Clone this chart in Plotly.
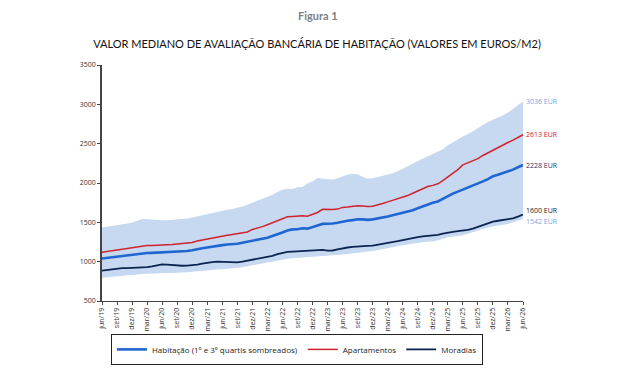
import plotly.graph_objects as go

pt_months = ["jan", "fev", "mar", "abr", "mai", "jun", "jul", "ago", "set", "out", "nov", "dez"]
# monthly categories jun/19 .. jun/26
months = []
for i in range(85):
    k = 5 + i
    months.append(f"{pt_months[k % 12]}/{19 + k // 12}")

habitacao = [1040, 1048, 1058, 1068, 1072, 1078, 1088, 1100, 1106, 1110, 1112, 1115,
             1118, 1120, 1124, 1130, 1133, 1135, 1145, 1160, 1170, 1180, 1192, 1200,
             1210, 1218, 1222, 1228, 1240, 1255, 1270, 1285, 1292, 1305, 1325, 1345,
             1370, 1395, 1410, 1412, 1425, 1420, 1445, 1460, 1480, 1478, 1485, 1495,
             1510, 1520, 1528, 1540, 1538, 1532, 1538, 1548, 1560, 1575, 1590, 1605,
             1617, 1635, 1655, 1680, 1705, 1730, 1750, 1765, 1800, 1840, 1865, 1890,
             1915, 1935, 1960, 1990, 2020, 2050, 2085, 2105, 2125, 2145, 2170, 2200,
             2228]

apartamentos = [1121, 1130, 1140, 1152, 1158, 1165, 1178, 1192, 1200, 1205, 1207, 1208,
                1210, 1213, 1218, 1225, 1230, 1232, 1245, 1262, 1275, 1290, 1300, 1310,
                1322, 1335, 1345, 1355, 1365, 1378, 1410, 1425, 1445, 1470, 1495, 1520,
                1555, 1570, 1575, 1580, 1585, 1578, 1605, 1625, 1665, 1660, 1662, 1668,
                1690, 1695, 1705, 1712, 1708, 1700, 1705, 1720, 1740, 1760, 1780, 1795,
                1815, 1840, 1870, 1900, 1930, 1955, 1970, 1990, 2030, 2075, 2120, 2170,
                2230, 2255, 2280, 2310, 2350, 2385, 2420, 2450, 2485, 2515, 2545, 2580,
                2613]

moradias = [887, 895, 905, 915, 918, 918, 920, 925, 928, 930, 940, 955,
            965, 962, 955, 952, 948, 950, 955, 962, 975, 988, 995, 1000,
            998, 992, 985, 990, 1000, 1012, 1025, 1035, 1045, 1058, 1075, 1095,
            1115, 1125, 1128, 1132, 1140, 1145, 1150, 1152, 1150, 1140, 1142, 1155,
            1170, 1180, 1188, 1195, 1200, 1202, 1205, 1215, 1228, 1240, 1250, 1262,
            1275, 1290, 1302, 1312, 1322, 1325, 1330, 1340, 1355, 1370, 1380, 1388,
            1395, 1405, 1420, 1440, 1465, 1490, 1510, 1520, 1528, 1535, 1550, 1572,
            1600]

q3 = [1435, 1445, 1455, 1470, 1478, 1485, 1495, 1520, 1542, 1540, 1532, 1528,
      1525, 1528, 1532, 1535, 1540, 1548, 1560, 1575, 1590, 1605, 1620, 1635,
      1650, 1660, 1668, 1680, 1700, 1725, 1750, 1770, 1795, 1820, 1850, 1885,
      1915, 1928, 1925, 1945, 1950, 1995, 2020, 2065, 2055, 2045, 2040, 2060,
      2085, 2105, 2118, 2112, 2080, 2055, 2060, 2075, 2090, 2108, 2125, 2150,
      2180, 2205, 2245, 2280, 2310, 2335, 2365, 2395, 2430, 2480, 2520, 2555,
      2590, 2620, 2660, 2700, 2740, 2775, 2805, 2830, 2860, 2895, 2940, 2990,
      3036]

q1 = [796, 803, 810, 818, 823, 828, 833, 837, 842, 846, 849, 852,
      854, 855, 855, 856, 860, 865, 871, 878, 886, 894, 898, 902,
      905, 910, 915, 921, 930, 942, 954, 966, 978, 992, 1005, 1020,
      1033, 1038, 1042, 1046, 1050, 1055, 1062, 1067, 1071, 1075, 1079, 1084,
      1090, 1097, 1103, 1108, 1118, 1128, 1137, 1147, 1157, 1167, 1180, 1195,
      1208, 1220, 1232, 1242, 1248, 1252, 1256, 1272, 1293, 1310, 1318, 1326,
      1335, 1355, 1378, 1396, 1415, 1435, 1450, 1460, 1470, 1480, 1500, 1522,
      1542]

tick_labels = months[::3]

C_BAND = "#c6d9f1"
C_HAB = "#1f66d1"
C_APT = "#d0232c"
C_MOR = "#0c2451"
C_LBL_BAND = "#7aa6e2"
C_LBL_HAB = "#1f3864"

fig = go.Figure()
fig.add_trace(go.Scatter(x=months, y=q1, mode="lines", line=dict(width=0, color=C_BAND),
                         showlegend=False, hoverinfo="skip"))
fig.add_trace(go.Scatter(x=months, y=q3, mode="lines", line=dict(width=0, color=C_BAND),
                         fill="tonexty", fillcolor=C_BAND, showlegend=False, hoverinfo="skip"))
fig.add_trace(go.Scatter(x=months, y=habitacao, mode="lines", name="Habitação (1º e 3º quartis sombreados)",
                         line=dict(color=C_HAB, width=2.6)))
fig.add_trace(go.Scatter(x=months, y=apartamentos, mode="lines", name="Apartamentos",
                         line=dict(color=C_APT, width=1.5)))
fig.add_trace(go.Scatter(x=months, y=moradias, mode="lines", name="Moradias",
                         line=dict(color=C_MOR, width=1.8)))

end_labels = [
    (q3[-1], C_LBL_BAND, 0),
    (apartamentos[-1], C_APT, 0),
    (habitacao[-1], C_LBL_HAB, 0),
    (moradias[-1], "#222222", 4),
    (q1[-1], C_LBL_BAND, -2),
]
for val, col, ys in end_labels:
    fig.add_annotation(x=months[-1], y=val, xref="x", yref="y", text=f"{val} EUR",
                       showarrow=False, xanchor="left", xshift=1, yshift=ys,
                       font=dict(size=7, color=col, family="Open Sans"))

# "Figura 1" header above the plot
fig.add_annotation(x=(318 - 102) / 421, y=(304 - 15) / 239, xref="paper", yref="paper",
                   text="<b>Figura 1</b>", showarrow=False, yanchor="middle",
                   font=dict(size=11, color="#808080", family="Lato"))

fig.update_layout(
    width=636, height=377,
    margin=dict(l=102, r=113, t=65, b=73),
    paper_bgcolor="white", plot_bgcolor="white",
    title=dict(text="VALOR MEDIANO DE AVALIAÇÃO BANCÁRIA DE HABITAÇÃO (VALORES EM EUROS/M2)",
               x=(317 - 0) / 636, xref="container", xanchor="center", y=1 - 44 / 377, yanchor="middle",
               font=dict(size=11, color="#111111", family="Lato")),
    font=dict(family="Open Sans", size=7, color="#333333"),
    showlegend=True,
    legend=dict(orientation="h", x=0.463, xanchor="center", y=-0.205, yanchor="middle",
                traceorder="normal",
                bordercolor="#222222", borderwidth=1, font=dict(size=8, color="#222222", family="Open Sans"),
                itemwidth=30, tracegroupgap=0),
)

fig.update_xaxes(type="category", range=[0, 84], tickmode="array", tickvals=tick_labels,
                 ticktext=tick_labels, tickangle=-90, ticks="outside", ticklen=3,
                 tickcolor="#444444", showline=True, linecolor="#444444", linewidth=1,
                 showgrid=False, zeroline=False, tickfont=dict(size=7, color="#333333"))
fig.update_yaxes(range=[500, 3500], dtick=500, ticks="outside", ticklen=3,
                 tickcolor="#444444", showline=True, linecolor="#444444", linewidth=1.5,
                 showgrid=False, zeroline=False, tickfont=dict(size=7, color="#333333"))

fig.write_html("out.html")
